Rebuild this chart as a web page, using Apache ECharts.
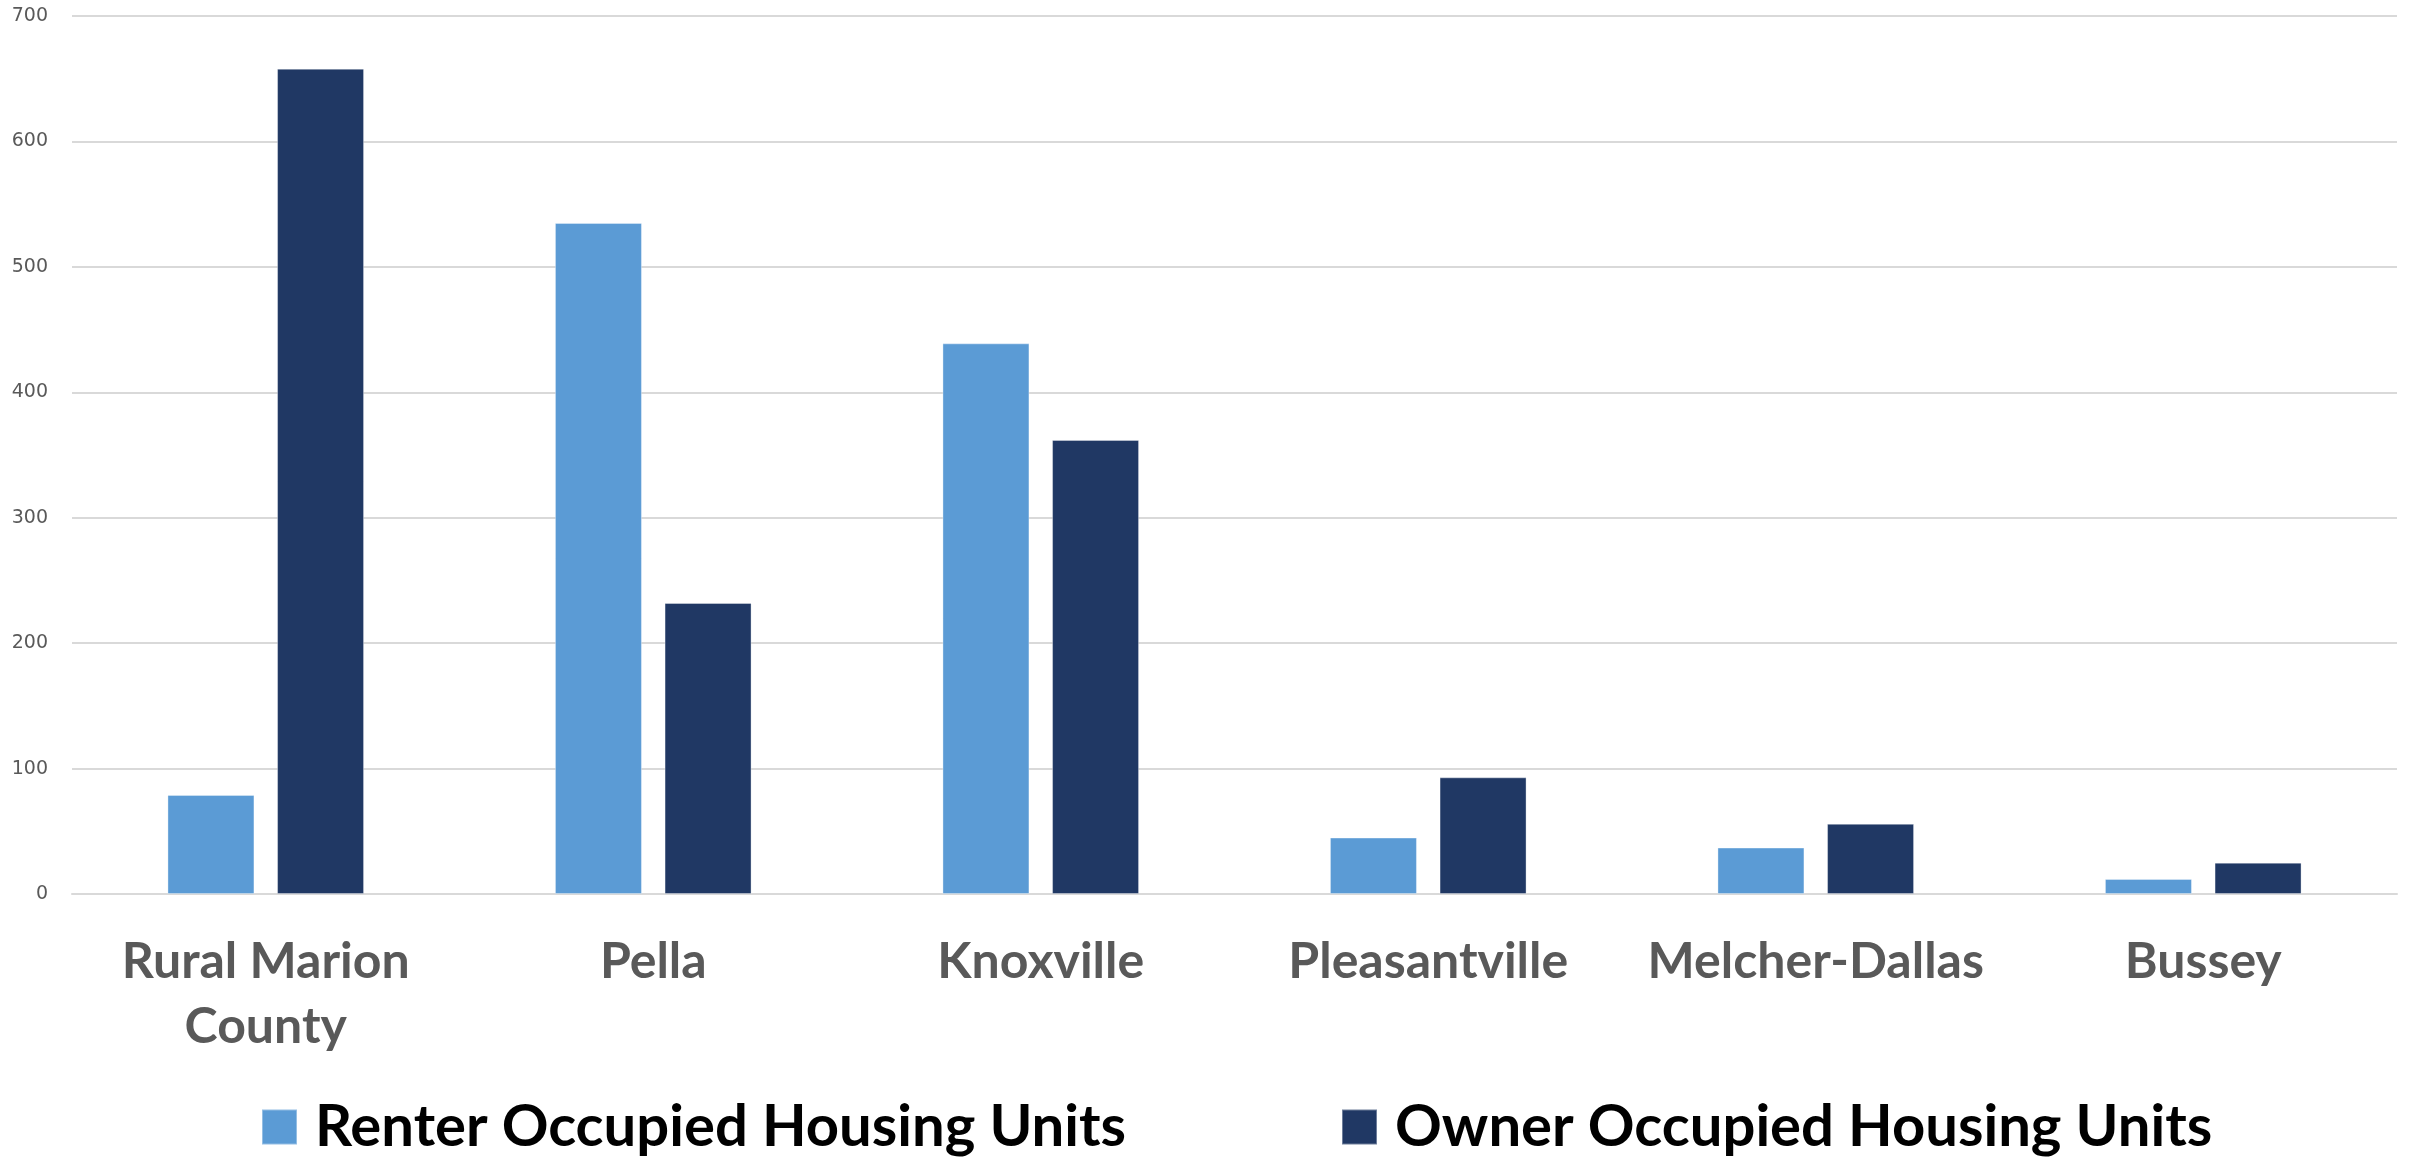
<!DOCTYPE html>
<html>
<head>
<meta charset="utf-8">
<title>Housing Units by Occupancy – Marion County</title>
<script src="https://cdn.jsdelivr.net/npm/echarts@6/dist/echarts.min.js"></script>
<style>
  html, body { margin: 0; padding: 0; background: #ffffff; }
  #chart { width: 2412px; height: 1158px; }
</style>
</head>
<body>
<div id="chart"></div>
<script>
// Places and occupied housing unit counts
const places = ['Rural Marion\nCounty', 'Pella', 'Knoxville', 'Pleasantville', 'Melcher-Dallas', 'Bussey'];
const renterUnits = [79, 535, 439, 45, 37, 12];
const ownerUnits = [658, 232, 362, 93, 56, 25];
const seriesNames = ['Renter Occupied Housing Units', 'Owner Occupied Housing Units'];
const yTicks = { min: 0, max: 700, interval: 100 };

const RENTER_COLOR = '#5B9BD5';
const OWNER_COLOR = '#203864';
const LABEL_FONT = 'Lato, "Noto Sans", sans-serif';

const chart = echarts.init(document.getElementById('chart'));

const legendText = {
  color: '#000000',
  fontFamily: LABEL_FONT,
  fontWeight: 'bold',
  fontSize: 58,
  lineHeight: 64,
  padding: [0, 0, 0, 13]
};

function legendAt(name, left) {
  return {
    data: [name],
    left: left,
    top: 1095,
    padding: 0,
    icon: 'rect',
    itemWidth: 35,
    itemHeight: 35,
    textStyle: legendText
  };
}

chart.setOption({
  animation: false,
  backgroundColor: '#ffffff',
  grid: {
    left: 72,
    right: 15,
    top: 16,
    bottom: 1158 - 894,
    containLabel: false
  },
  legend: [
    legendAt(seriesNames[0], 261),
    legendAt(seriesNames[1], 1341)
  ],
  xAxis: {
    type: 'category',
    data: places,
    axisLine: { show: true, lineStyle: { color: '#d9d9d9', width: 2 } },
    axisTick: { show: false },
    axisLabel: {
      interval: 0,
      margin: 35,
      color: '#595959',
      fontFamily: LABEL_FONT,
      fontWeight: 'bold',
      fontSize: 50,
      lineHeight: 65
    }
  },
  yAxis: {
    type: 'value',
    min: yTicks.min,
    max: yTicks.max,
    interval: yTicks.interval,
    axisLine: { show: false },
    axisTick: { show: false },
    splitLine: { show: true, lineStyle: { color: '#d9d9d9', width: 2 } },
    axisLabel: {
      margin: 24,
      color: '#595959',
      fontFamily: '"DejaVu Sans", sans-serif',
      fontSize: 19
    }
  },
  series: [
    {
      name: seriesNames[0],
      type: 'bar',
      data: renterUnits,
      barWidth: '22.45%',
      barGap: '26%',
      itemStyle: { color: RENTER_COLOR, borderColor: 'rgba(255,255,255,0.35)', borderWidth: 1 }
    },
    {
      name: seriesNames[1],
      type: 'bar',
      data: ownerUnits,
      barWidth: '22.45%',
      barGap: '26%',
      itemStyle: { color: OWNER_COLOR, borderColor: 'rgba(255,255,255,0.35)', borderWidth: 1 }
    }
  ]
});
</script>
</body>
</html>
